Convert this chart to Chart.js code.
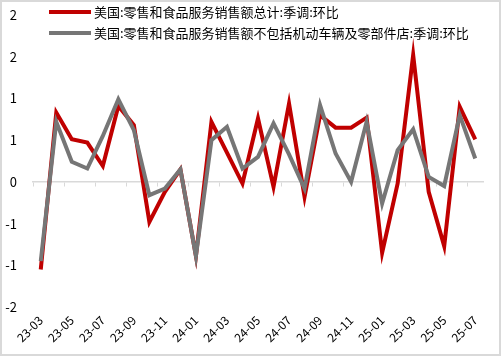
<!DOCTYPE html>
<html><head><meta charset="utf-8">
<script src="https://cdn.jsdelivr.net/npm/chart.js@4.4.1/dist/chart.umd.min.js"></script>
<style>html,body{margin:0;padding:0;background:#fff;overflow:hidden;} #wrap{width:501px;height:356px;position:relative;}</style>
</head><body><div id="wrap"><canvas id="c" width="501" height="356"></canvas></div>
<script>
const categories = ['23-03','23-04','23-05','23-06','23-07','23-08','23-09','23-10','23-11','23-12',
  '24-01','24-02','24-03','24-04','24-05','24-06','24-07','24-08','24-09','24-10','24-11','24-12',
  '25-01','25-02','25-03','25-04','25-05','25-06','25-07'];
const seriesNames = ['美国:零售和食品服务销售额总计:季调:环比', '美国:零售和食品服务销售额不包括机动车辆及零部件店:季调:环比'];
const totalMoM = [-1.05, 0.83, 0.51, 0.47, 0.19, 0.91, 0.68, -0.48, -0.12, 0.15,
  -0.89, 0.72, 0.35, -0.02, 0.76, -0.06, 0.94, -0.18, 0.80, 0.65, 0.65, 0.77,
  -0.85, -0.02, 1.52, -0.12, -0.77, 0.90, 0.51];
const exAutoMoM = [-0.95, 0.72, 0.24, 0.16, 0.55, 0.99, 0.62, -0.16, -0.08, 0.15,
  -0.89, 0.50, 0.66, 0.16, 0.30, 0.70, 0.33, -0.08, 0.92, 0.34, 0.00, 0.72,
  -0.26, 0.38, 0.63, 0.06, -0.05, 0.80, 0.28];
const yMin = -1.5, yMax = 2.0, yStep = 0.5;
const colors = ['#C00000', '#767676'];

const frameAndLegend = {
  id: 'frameAndLegend',
  beforeDraw(chart) {
    const ctx = chart.ctx;
    ctx.save();
    ctx.fillStyle = '#fff';
    ctx.fillRect(0, 0, chart.width, chart.height);
    ctx.restore();
  },
  afterDraw(chart) {
    const ctx = chart.ctx;
    ctx.save();
    chart.data.datasets.forEach((ds, i) => {
      const y = 12 + i * 21;
      ctx.strokeStyle = ds.borderColor;
      ctx.lineWidth = 4;
      ctx.beginPath();
      ctx.moveTo(49, y);
      ctx.lineTo(91, y);
      ctx.stroke();
      ctx.fillStyle = '#000';
      ctx.font = "13px 'Noto Sans CJK SC'";
      ctx.textBaseline = 'middle';
      ctx.textAlign = 'left';
      ctx.fillText(ds.label, 94, y);
    });
    ctx.strokeStyle = '#d9d9d9';
    ctx.lineWidth = 2;
    ctx.strokeRect(1, 1, chart.width - 2, chart.height - 2);
    ctx.restore();
  }
};

new Chart(document.getElementById('c'), {
  type: 'line',
  data: {
    labels: categories,
    datasets: [
      { label: seriesNames[0], data: totalMoM, borderColor: colors[0], backgroundColor: colors[0],
        borderWidth: 4, pointRadius: 0, tension: 0, order: 1, xAxisID: 'x' },
      { label: seriesNames[1], data: exAutoMoM, borderColor: colors[1], backgroundColor: colors[1],
        borderWidth: 4, pointRadius: 0, tension: 0, order: 0, xAxisID: 'x' }
    ]
  },
  options: {
    responsive: false,
    maintainAspectRatio: false,
    animation: false,
    devicePixelRatio: 1,
    layout: { padding: { left: 0, right: 18, top: 15, bottom: 0 } },
    plugins: { legend: { display: false }, tooltip: { enabled: false } },
    scales: {
      x: {
        type: 'category',
        position: { y: 0 },
        offset: true,
        grid: {
          offset: true, drawOnChartArea: false, drawTicks: true, tickLength: 4,
          color: c => (c.index % 2 === 0 ? '#d9d9d9' : 'rgba(0,0,0,0)')
        },
        border: { display: true, color: '#d9d9d9', width: 1.5 },
        ticks: { display: false, autoSkip: false },
        afterFit: s => { s.paddingTop = 0; s.paddingBottom = 0; s.height = 0; }
      },
      x2: {
        type: 'category',
        labels: categories,
        position: 'bottom',
        offset: true,
        grid: { display: false, drawTicks: false },
        border: { display: false },
        ticks: {
          autoSkip: false, maxRotation: 45, minRotation: 45, padding: 6,
          color: '#000', font: { family: "'Noto Sans CJK SC'", size: 12 },
          callback: function (v, i) { return i % 2 === 0 ? this.getLabelForValue(v) : ''; }
        },
        afterFit: s => { s.height = 49; }
      },
      y: {
        min: yMin, max: yMax,
        grid: { display: false, drawTicks: false },
        border: { display: false },
        ticks: {
          stepSize: yStep, padding: 16, color: '#000',
          font: { family: "'Noto Sans CJK SC'", size: 13 },
          callback: v => String(Math.sign(v) * Math.round(Math.abs(v)))
        },
        afterFit: s => { s.width = 33; s.paddingTop = 0; s.paddingBottom = 0; }
      }
    }
  },
  plugins: [frameAndLegend]
});
</script>
</body></html>
